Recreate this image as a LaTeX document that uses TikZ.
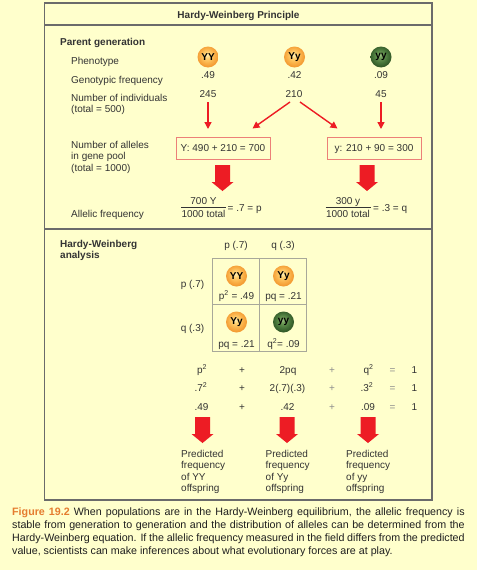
\documentclass[tikz,border=0pt]{standalone}
\usepackage{fontspec}
\setmainfont{Liberation Sans}
\usetikzlibrary{arrows.meta}
\definecolor{bg}{HTML}{FFFFCC}
\definecolor{framec}{HTML}{6B6B6B}
\definecolor{hwred}{HTML}{ED1C24}
\definecolor{boxc}{HTML}{EC8078}
\definecolor{txt}{HTML}{333333}
\definecolor{lite}{HTML}{8C8C8C}
\definecolor{figor}{HTML}{E57C2F}
\definecolor{gridc}{HTML}{A8A89A}
\definecolor{orhi}{HTML}{FFF0B8}
\definecolor{orm1}{HTML}{FFD272}
\definecolor{ormid}{HTML}{FAB24A}
\definecolor{orout}{HTML}{F39B33}
\definecolor{grhi}{HTML}{9CBF82}
\definecolor{grm1}{HTML}{6A9853}
\definecolor{grmid}{HTML}{47753A}
\definecolor{grout}{HTML}{335A28}
\pgfdeclareradialshading{orball}{\pgfpoint{-3bp}{5bp}}{color(0bp)=(orhi); color(7bp)=(orm1); color(17bp)=(ormid); color(25bp)=(orout); color(50bp)=(orout)}
\pgfdeclareradialshading{grball}{\pgfpoint{-3bp}{5bp}}{color(0bp)=(grhi); color(7bp)=(grm1); color(17bp)=(grmid); color(25bp)=(grout); color(50bp)=(grout)}
\begin{document}
\begin{tikzpicture}[x=1pt,y=-1pt,
  lbl/.style={anchor=base west, inner sep=0, text=txt, font=\fontsize{10}{11}\selectfont},
  mlbl/.style={anchor=north west, inner sep=0, text=txt, align=left, font=\fontsize{10}{11.2}\selectfont},
  ctr/.style={anchor=base, inner sep=0, text=txt, font=\fontsize{10}{11}\selectfont},
  hd/.style={anchor=base west, inner sep=0, text=txt, font=\bfseries\fontsize{10}{11}\selectfont},
  ballO/.style={circle, minimum size=21pt, inner sep=0, shade, shading=orball, text=black, font=\bfseries\fontsize{10}{10}\selectfont},
  ballG/.style={circle, minimum size=21pt, inner sep=0, shade, shading=grball, text=black, font=\bfseries\fontsize{10}{10}\selectfont},
  abox/.style={draw=boxc, line width=0.9pt, fill=bg, minimum width=94pt, minimum height=22pt, inner sep=0, text=txt, text height=7.3pt, text depth=0pt, font=\fontsize{10}{11}\selectfont},
  thinarr/.style={hwred, line width=1.4pt, -{Triangle[length=7pt,width=7pt]}},
  bigarrow/.pic={\fill[hwred] (-7.5,0) -- (7.5,0) -- (7.5,17) -- (11,17) -- (0,26) -- (-11,17) -- (-7.5,17) -- cycle;}
]
\useasboundingbox (0,0) rectangle (477,570);
\fill[bg] (0,0) rectangle (477,570);
% frame
\draw[framec, line width=1.7pt] (44.5,3) rectangle (432,500);
\draw[framec, line width=1.7pt] (44.5,25) -- (432,25);
\draw[framec, line width=1.9pt] (44.5,229) -- (432,229);

% title
\node[anchor=base, inner sep=0, text=txt, font=\bfseries\fontsize{10}{11}\selectfont] (title) at (238.5,18.5) {Hardy-Weinberg Principle};

% parent generation
\node[hd] (pg) at (60,45.5) {Parent generation};
\node[lbl] (pheno) at (71,64.5) {Phenotype};
\node[lbl] (genof) at (71,83) {Genotypic frequency};
\node[mlbl] (nind) at (71,93.7) {Number of individuals\\(total = 500)};

\node[ballO] (b1) at (208,57) {YY};
\node[ballO] (b2) at (294.5,57) {Yy};
\node[ballG] (b3) at (381,57) {yy};

\node[ctr] (f1) at (208,78) {.49};
\node[ctr] (f2) at (294.5,78) {.42};
\node[ctr] (f3) at (381,78) {.09};
\node[ctr] (n1) at (208,97) {245};
\node[ctr] (n2) at (294,97) {210};
\node[ctr] (n3) at (381,97) {45};

% thin arrows
\coordinate (a1s) at (208,102);
\coordinate (a1e) at (208,129);
\coordinate (a2s) at (290,102);
\coordinate (a2e) at (252.5,128.5);
\coordinate (a3s) at (300,102);
\coordinate (a3e) at (337.5,128.5);
\coordinate (a4s) at (381,102);
\coordinate (a4e) at (381,129);
\draw[thinarr] (a1s) -- (a1e);
\draw[thinarr] (a2s) -- (a2e);
\draw[thinarr] (a3s) -- (a3e);
\draw[thinarr] (a4s) -- (a4e);

% alleles
\node[mlbl] (nall) at (71,141.2) {Number of alleles\\in gene pool\\(total = 1000)};
\node[abox] (boxY) at (223,148) {Y: 490 + 210 = 700};
\node[abox] (boxy) at (374,148) {y: 210 + 90 = 300};

\pic at (222.5,165) {bigarrow};
\pic at (367,165) {bigarrow};

% allelic frequency
\node[lbl] (allf) at (71,217) {Allelic frequency};
\node[ctr] (fn1) at (203.5,204.5) {700 Y};
\node[ctr] (fd1) at (203.5,217) {1000 total};
\coordinate (fl1a) at (181,207.5);
\coordinate (fl1b) at (226,207.5);
\draw[txt, line width=0.6pt] (fl1a) -- (fl1b);
\node[lbl] (fe1) at (227.5,211) {= .7 = p};

\node[ctr] (fn2) at (348,204.5) {300 y};
\node[ctr] (fd2) at (348,217) {1000 total};
\coordinate (fl2a) at (325.5,207.5);
\coordinate (fl2b) at (370.5,207.5);
\draw[txt, line width=0.6pt] (fl2a) -- (fl2b);
\node[lbl] (fe2) at (373,211) {= .3 = q};

% Hardy-Weinberg analysis
\node[mlbl, font=\bfseries\fontsize{10}{11}\selectfont] (hwa) at (60,239.7) {Hardy-Weinberg\\analysis};
\node[ctr] (ch1) at (236,248) {p (.7)};
\node[ctr] (ch2) at (283,248) {q (.3)};
\node[ctr] (rh1) at (192.5,287) {p (.7)};
\node[ctr] (rh2) at (192.5,331) {q (.3)};

\draw[gridc, line width=0.8pt] (212.5,258) rectangle (306.5,351.5);
\draw[gridc, line width=0.8pt] (259.5,258) -- (259.5,351.5);
\draw[gridc, line width=0.8pt] (212.5,304.5) -- (306.5,304.5);

\node[ballO] (c1) at (236.5,276) {YY};
\node[ballO] (c2) at (283.5,276) {Yy};
\node[ballO] (c3) at (236.5,322) {Yy};
\node[ballG] (c4) at (283.5,322) {yy};
\node[ctr] (ct1) at (236.5,299.5) {p\textsuperscript{2} = .49};
\node[ctr] (ct2) at (283.5,299.5) {pq = .21};
\node[ctr] (ct3) at (236.5,347) {pq = .21};
\node[ctr] (ct4) at (283.5,347) {q\textsuperscript{2}= .09};

% equations
\node[ctr] (e11) at (202,373) {p\textsuperscript{2}};
\node[ctr] (e12) at (242,373) {+};
\node[ctr] (e13) at (288,373) {2pq};
\node[ctr, text=lite] (e14) at (332,373) {+};
\node[ctr] (e15) at (368.5,373) {q\textsuperscript{2}};
\node[ctr, text=lite] (e16) at (392.5,373) {=};
\node[ctr] (e17) at (414.5,373) {1};

\node[ctr] (e21) at (201,391) {.7\textsuperscript{2}};
\node[ctr] (e22) at (242,391) {+};
\node[ctr] (e23) at (287.5,391) {2(.7)(.3)};
\node[ctr, text=lite] (e24) at (332,391) {+};
\node[ctr] (e25) at (367,391) {.3\textsuperscript{2}};
\node[ctr, text=lite] (e26) at (392.5,391) {=};
\node[ctr] (e27) at (414.5,391) {1};

\node[ctr] (e31) at (201.5,410) {.49};
\node[ctr] (e32) at (242,410) {+};
\node[ctr] (e33) at (287.5,410) {.42};
\node[ctr, text=lite] (e34) at (332,410) {+};
\node[ctr] (e35) at (368,410) {.09};
\node[ctr, text=lite] (e36) at (392.5,410) {=};
\node[ctr] (e37) at (414.5,410) {1};

\pic at (202.5,417) {bigarrow};
\pic at (287,417) {bigarrow};
\pic at (368,417) {bigarrow};

\node[mlbl, font=\fontsize{10}{11.3}\selectfont] (pr1) at (181,450.2) {Predicted\\frequency\\of YY\\offspring};
\node[mlbl, font=\fontsize{10}{11.3}\selectfont] (pr2) at (265.5,450.2) {Predicted\\frequency\\of Yy\\offspring};
\node[mlbl, font=\fontsize{10}{11.3}\selectfont] (pr3) at (346,450.2) {Predicted\\frequency\\of yy\\offspring};

% caption
\node[anchor=north west, inner sep=0, text width=452.5pt, align=justify, text=black!88, font=\fontsize{10.7}{13}\selectfont] (cap) at (12,507.7)
{{\bfseries\color{figor}Figure 19.2} When populations are in the Hardy-Weinberg equilibrium, the allelic frequency is\linebreak stable from generation to generation and the distribution of alleles can be determined from the\linebreak Hardy-Weinberg equation. If the allelic frequency measured in the field differs from the predicted\linebreak value, scientists can make inferences about what evolutionary forces are at play.};
\end{tikzpicture}
\end{document}
